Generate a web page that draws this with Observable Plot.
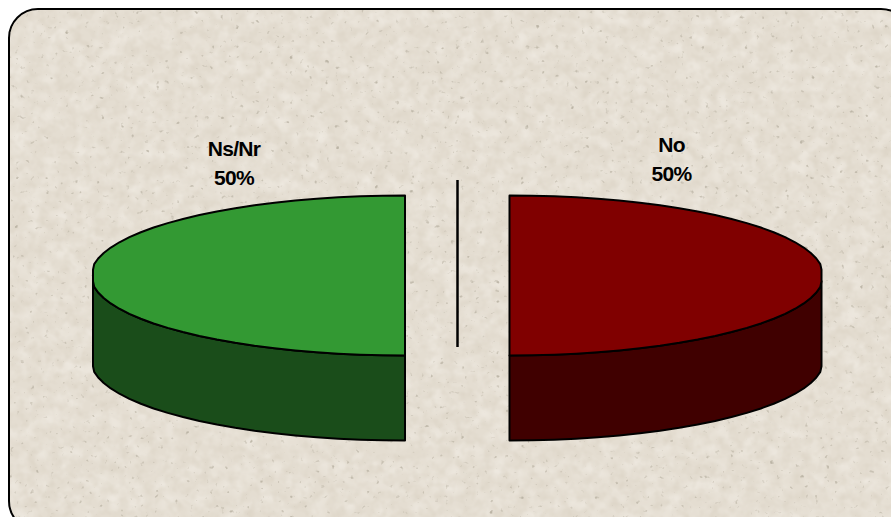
<!DOCTYPE html>
<html>
<head>
<meta charset="utf-8">
<script src="https://cdn.jsdelivr.net/npm/d3@7"></script>
<script src="https://cdn.jsdelivr.net/npm/@observablehq/plot@0.6"></script>
<style>
html,body{margin:0;padding:0;background:#fff;overflow:hidden;width:891px;height:517px}
#wrap{position:relative;width:891px;height:517px;overflow:hidden}
#bg{position:absolute;left:8px;top:8px;width:903px;height:523px;box-sizing:border-box;border:2.5px solid #000;border-radius:30px;background-color:#e4ddd1;overflow:hidden}
#bg svg{position:absolute;left:0;top:0}
#chart{position:absolute;left:0;top:0}
#chart svg{background:transparent;display:block}
</style>
</head>
<body>
<div id="wrap">
<div id="bg">
<svg width="903" height="523">
<filter id="paper" x="0" y="0" width="100%" height="100%">
<feTurbulence type="fractalNoise" baseFrequency="0.11" numOctaves="2" seed="7"/>
<feColorMatrix type="matrix" values="0 0 0 0 0.66  0 0 0 0 0.60  0 0 0 0 0.50  0.9 0 0 0 -0.36"/>
</filter>
<filter id="speck" x="0" y="0" width="100%" height="100%">
<feTurbulence type="fractalNoise" baseFrequency="0.2" numOctaves="2" seed="11"/>
<feColorMatrix type="matrix" values="0 0 0 0 0.50  0 0 0 0 0.46  0 0 0 0 0.38  5 0 0 0 -3.5"/>
</filter>
<filter id="paperLight" x="0" y="0" width="100%" height="100%">
<feTurbulence type="fractalNoise" baseFrequency="0.06" numOctaves="2" seed="3"/>
<feColorMatrix type="matrix" values="0 0 0 0 0.93  0 0 0 0 0.90  0 0 0 0 0.85  0 1.0 0 0 -0.36"/>
</filter>
<rect width="903" height="523" filter="url(#paperLight)"/>
<rect width="903" height="523" filter="url(#paper)"/>
<rect width="903" height="523" filter="url(#speck)"/>
</svg>
</div>
<div id="chart"></div>
</div>
<script>
const categories = ["Ns/Nr", "No"];
const shares = [50, 50];
const topColors = ["#339933", "#800000"];
const sideColors = ["#1a4d1a", "#400000"];
const labelAnchors = [[233.5, 161], [671, 157]];
const labelSize = 21;
const pieCentres = [[404.5, 275], [509, 275]];
const radiusX = 314, radiusY = 80, depth = 85, reach = 312;
const dividerX = 457, dividerY = [180, 347];

// Slices in pie order, both starting at the cut edge; the gap comes from the exploded centres.
const arcs = d3.pie().sort(null).startAngle(0).endAngle(2 * Math.PI).value(d => d)(shares);
const span = i => arcs[i].endAngle - arcs[i].startAngle;
const steps = 44;
const faceRows = [], sideRows = [];
categories.forEach((name, i) => {
  const [cx, cy] = pieCentres[i];
  const dir = i === 0 ? -1 : 1; // left slice opens to the left, right slice to the right
  const pts = d3.range(steps + 1).map(k => {
    const a = span(i) * k / steps;
    const off = Math.min(reach, radiusX * Math.sin(a));
    return {name, x: cx + dir * off, y: cy - radiusY * Math.cos(a), a};
  });
  pts.forEach(p => faceRows.push(p));
  faceRows.push({...pts[0]});
  // Visible wall: from the lower end of the flat outer edge to the bottom of the cut
  const front = pts.filter(p => p.a > Math.PI / 2 && Math.abs(p.x - cx) <= reach);
  const wallStart = front.findIndex(p => Math.abs(p.x - cx) < reach) - 1;
  const wall = front.slice(Math.max(0, wallStart));
  wall.forEach(p => sideRows.push({name, x: p.x, y: p.y}));
  wall.slice().reverse().forEach(p => sideRows.push({name, x: p.x, y: p.y + depth}));
  sideRows.push({name, x: wall[0].x, y: wall[0].y});
});
const labelRows = categories.map((name, i) => ({
  text: `${name}\n${shares[i]}%`, x: labelAnchors[i][0], y: labelAnchors[i][1]
}));

const chart = Plot.plot({
  width: 891, height: 517,
  margin: 0,
  style: {background: "transparent"},
  x: {domain: [0, 891], range: [0, 891], axis: null},
  y: {domain: [0, 517], range: [0, 517], axis: null},
  marks: [
    ...categories.map((name, i) => Plot.line(sideRows.filter(d => d.name === name), {
      x: "x", y: "y", fill: sideColors[i], stroke: "#000", strokeWidth: 2, strokeLinejoin: "round"
    })),
    ...categories.map((name, i) => Plot.line(faceRows.filter(d => d.name === name), {
      x: "x", y: "y", fill: topColors[i], stroke: "#000", strokeWidth: 2, strokeLinejoin: "round"
    })),
    Plot.ruleX([dividerX], {y1: dividerY[0], y2: dividerY[1], stroke: "#000", strokeWidth: 2.5}),
    Plot.text(labelRows, {
      x: "x", y: "y", text: "text", lineHeight: 1.38, lineAnchor: "middle",
      fontFamily: "'Liberation Sans', Arial, sans-serif", fontWeight: "bold", fontSize: labelSize,
      fill: "#000"
    })
  ]
});
chart.querySelectorAll('[aria-label="text"] text').forEach(t => t.style.letterSpacing = "-0.7px");
document.getElementById("chart").append(chart);
</script>
</body>
</html>
